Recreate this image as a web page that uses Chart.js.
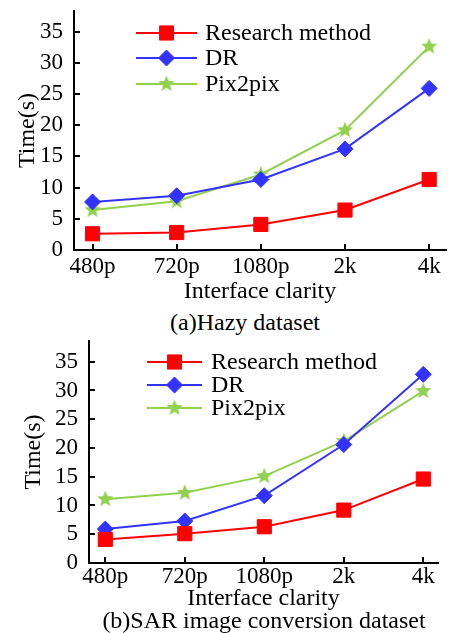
<!DOCTYPE html>
<html>
<head>
<meta charset="utf-8">
<script src="https://cdn.jsdelivr.net/npm/chart.js@4.4.0/dist/chart.umd.min.js"></script>
<style>
body { margin: 0; background: #fff; width: 457px; height: 633px; position: relative; overflow: hidden; font-family: "Liberation Serif", serif; }
.box { position: absolute; left: 0; width: 457px; }
.cap { position: absolute; font-size: 24px; white-space: nowrap; transform: translate(-50%, -50%); line-height: 1; color: #000; }
</style>
</head>
<body>
<div class="box" style="top:0;height:306px"><canvas id="chartA"></canvas></div>
<div class="cap" style="left:245px;top:322px">(a)Hazy dataset</div>
<div class="box" style="top:330px;height:283px"><canvas id="chartB"></canvas></div>
<div class="cap" style="left:264px;top:620px">(b)SAR image conversion dataset</div>
<script>
const categories = ["480p", "720p", "1080p", "2k", "4k"];
const seriesNames = ["Research method", "DR", "Pix2pix"];
const yTicks = [0, 5, 10, 15, 20, 25, 30, 35];

// (a) Hazy dataset
const hazyResearch = [2.6, 2.8, 4.1, 6.4, 11.3];
const hazyDR = [7.7, 8.7, 11.3, 16.2, 25.9];
const hazyPix = [6.4, 7.8, 12.1, 19.2, 32.6];

// (b) SAR image conversion dataset
const sarResearch = [4.1, 5.1, 6.3, 9.2, 14.6];
const sarDR = [5.9, 7.3, 11.7, 20.6, 32.8];
const sarPix = [11.1, 12.2, 15.1, 21.2, 29.9];

const FONT = "Liberation Serif";
const colors = ["#ff0000", "#3333ff", "#92d050"];

// filled five point star for Pix2pix
function makeStar(color) {
    const c = document.createElement("canvas");
    c.width = 18; c.height = 18;
    const g = c.getContext("2d");
    g.fillStyle = color;
    g.beginPath();
    for (let i = 0; i < 10; i++) {
        const r = i % 2 === 0 ? 8.5 : 3.8;
        const a = -Math.PI / 2 + i * Math.PI / 5;
        const px = 9 + r * Math.cos(a), py = 9 + r * Math.sin(a);
        if (i === 0) g.moveTo(px, py); else g.lineTo(px, py);
    }
    g.closePath();
    g.fill();
    return c;
}
const star = makeStar(colors[2]);
const styles = [
    { pointStyle: "rect", radius: 10 },
    { pointStyle: "rectRot", radius: 8 },
    { pointStyle: star, radius: 9 }
];

const innerTicks = {
    id: "innerTicks",
    afterDraw(chart) {
        const { ctx, chartArea, scales: { x, y } } = chart;
        ctx.save();
        ctx.strokeStyle = "#000";
        ctx.lineWidth = 2;
        ctx.beginPath();
        y.ticks.forEach(t => {
            const py = Math.round(y.getPixelForValue(t.value));
            ctx.moveTo(chartArea.left, py);
            ctx.lineTo(chartArea.left + 6, py);
        });
        x.ticks.forEach(t => {
            const px = Math.round(x.getPixelForValue(t.value));
            ctx.moveTo(px, chartArea.bottom);
            ctx.lineTo(px, chartArea.bottom - 6);
        });
        ctx.stroke();
        ctx.restore();
    }
};

const lineLegend = {
    id: "lineLegend",
    afterDatasetsDraw(chart, args, opts) {
        const { ctx, chartArea } = chart;
        ctx.save();
        chart.data.datasets.forEach((ds, i) => {
            const yy = chartArea.top + opts.rows[i];
            const x1 = chartArea.left + opts.x1, x2 = chartArea.left + opts.x2;
            ctx.strokeStyle = ds.borderColor;
            ctx.lineWidth = 2;
            ctx.beginPath();
            ctx.moveTo(x1, yy);
            ctx.lineTo(x2, yy);
            ctx.stroke();
            ctx.fillStyle = ds.pointBackgroundColor;
            ctx.strokeStyle = ds.pointBorderColor;
            ctx.lineWidth = 1;
            Chart.helpers.drawPoint(ctx, { pointStyle: ds.pointStyle, radius: ds.pointRadius, rotation: 0, borderWidth: 1 }, (x1 + x2) / 2, yy);
            ctx.fillStyle = "#000";
            ctx.font = "24px " + FONT;
            ctx.textBaseline = "middle";
            ctx.textAlign = "left";
            ctx.fillText(ds.label, chartArea.left + opts.tx, yy + 1);
        });
        ctx.restore();
    }
};

function makeChart(id, values, geo) {
    const datasets = values.map((vals, i) => ({
        label: seriesNames[i],
        data: vals.map((v, k) => ({ x: k, y: v })),
        borderColor: colors[i],
        backgroundColor: colors[i],
        borderWidth: 2,
        pointStyle: styles[i].pointStyle,
        pointRadius: styles[i].radius,
        pointHoverRadius: styles[i].radius,
        pointBackgroundColor: colors[i],
        pointBorderColor: colors[i],
        pointBorderWidth: 1,
        tension: 0,
        clip: false
    }));

    return new Chart(document.getElementById(id).getContext("2d"), {
        type: "line",
        data: { datasets },
        plugins: [innerTicks, lineLegend],
        options: {
            responsive: true,
            maintainAspectRatio: false,
            animation: false,
            layout: { padding: { top: geo.top, right: geo.right, left: 0, bottom: 0 } },
            plugins: {
                legend: { display: false },
                tooltip: { enabled: false },
                lineLegend: geo.legend
            },
            scales: {
                x: {
                    type: "linear",
                    min: geo.xMin,
                    max: geo.xMax,
                    afterBuildTicks: s => { s.ticks = categories.map((c, k) => ({ value: k })); },
                    afterFit: s => { s.height = geo.xHeight; s.paddingLeft = 0; s.paddingRight = 0; },
                    grid: { display: false, drawTicks: false },
                    border: { display: true, color: "#000", width: 2 },
                    ticks: {
                        padding: geo.xPad,
                        color: "#000",
                        font: { family: FONT, size: 23 },
                        maxRotation: 0,
                        callback: v => categories[v]
                    },
                    title: {
                        display: true,
                        text: "Interface clarity",
                        color: "#000",
                        font: { family: FONT, size: 24 },
                        padding: { top: 0, bottom: 0 }
                    }
                },
                y: {
                    min: 0,
                    max: geo.yMax,
                    afterBuildTicks: s => { s.ticks = yTicks.map(v => ({ value: v })); },
                    afterFit: s => { s.width = geo.yWidth; s.paddingTop = 0; s.paddingBottom = 0; },
                    grid: { display: false, drawTicks: false },
                    border: { display: true, color: "#000", width: 2 },
                    ticks: {
                        padding: 11,
                        color: "#000",
                        font: { family: FONT, size: 23 }
                    },
                    title: {
                        display: true,
                        text: "Time(s)",
                        color: "#000",
                        font: { family: FONT, size: 24 },
                        padding: { top: geo.yTitlePad, bottom: 0 }
                    }
                }
            }
        }
    });
}

makeChart("chartA", [hazyResearch, hazyDR, hazyPix], {
    top: 10, right: 5, yWidth: 74, xHeight: 56, xPad: 3,
    xMin: -0.22, xMax: 4.2, yMax: 38.3, yTitlePad: 13,
    legend: { x1: 62, x2: 123, tx: 131, rows: [22, 47, 73] }
});

makeChart("chartB", [sarResearch, sarDR, sarPix], {
    top: 11, right: 19, yWidth: 89, xHeight: 50, xPad: 0,
    xMin: -0.205, xMax: 4.185, yMax: 38.6, yTitlePad: 19,
    legend: { x1: 58, x2: 113, tx: 122, rows: [21, 44, 67] }
});
</script>
</body>
</html>
